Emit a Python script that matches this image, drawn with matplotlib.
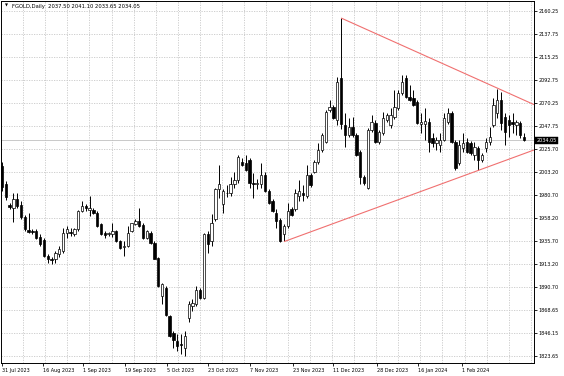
import matplotlib
matplotlib.use("Agg")
import matplotlib.pyplot as plt
import matplotlib.transforms as mtransforms
import numpy as np

# ---------------- data ----------------
opens = [2008.6, 1991.0, 1971.4, 1968.5, 1977.3, 1971.4, 1959.6, 1946.9, 1946.0, 1946.0,
         1940.1, 1937.1, 1921.5, 1918.6, 1918.6, 1923.4, 1926.4, 1944.0, 1945.0, 1943.0,
         1947.9, 1965.5, 1970.4, 1966.5, 1966.5, 1963.6, 1952.8, 1944.0, 1943.0, 1943.0,
         1946.0, 1936.2, 1930.3, 1931.3, 1946.0, 1952.8, 1955.7, 1951.8, 1939.1, 1944.0,
         1934.2, 1919.5, 1882.3, 1890.2, 1862.8, 1846.1, 1838.3, 1835.4, 1831.5, 1860.8,
         1872.6, 1874.5, 1888.2, 1880.4, 1943.0, 1936.2, 1957.7, 1987.0, 1972.4, 1982.2,
         1982.2, 1991.9, 1994.9, 2012.5, 2011.5, 2014.4, 1992.9, 1991.9, 1991.9, 1999.8,
         1985.1, 1975.3, 1963.6, 1956.7, 1943.0, 1950.8, 1967.5, 1967.5, 1980.2, 1982.2,
         1980.2, 1999.8, 2002.7, 2012.5, 2024.2, 2032.1, 2063.4, 2066.3, 2053.6, 2094.7,
         2048.7, 2039.0, 2046.7, 2039.0, 2022.3, 1997.8, 1988.0, 2043.8, 2050.6, 2032.1,
         2040.9, 2053.6, 2048.7, 2056.5, 2065.3, 2080.0, 2094.7, 2076.1, 2075.1, 2071.2,
         2049.7, 2049.7, 2051.6, 2036.0, 2031.1, 2029.1, 2034.0, 2051.6, 2060.4, 2032.1,
         2011.5, 2026.2, 2032.1, 2031.1, 2019.3, 2026.2, 2014.4, 2026.2, 2032.1, 2048.7,
         2060.4, 2073.2, 2056.5, 2053.6, 2051.6, 2048.7, 2050.6, 2037.50]
highs = [2012.5, 1993.9, 1973.3, 1982.2, 1982.2, 1975.3, 1961.6, 1963.6, 1947.9, 1947.9,
         1943.0, 1939.1, 1923.4, 1920.5, 1926.4, 1931.3, 1948.9, 1950.8, 1948.9, 1948.9,
         1966.5, 1975.3, 1972.4, 1980.2, 1968.5, 1965.5, 1953.8, 1946.0, 1945.0, 1953.8,
         1946.9, 1937.1, 1936.2, 1950.8, 1953.8, 1957.7, 1968.5, 1953.8, 1946.9, 1946.0,
         1936.2, 1920.5, 1895.1, 1892.1, 1863.8, 1848.1, 1845.2, 1845.2, 1848.1, 1877.5,
         1879.4, 1892.1, 1890.2, 1944.0, 1946.0, 1962.6, 1988.0, 2009.6, 1987.0, 1990.0,
         1997.8, 2002.7, 2019.3, 2016.4, 2019.3, 2016.4, 2001.7, 1996.8, 2011.5, 2002.7,
         1987.0, 1977.3, 1967.5, 1958.6, 1952.8, 1973.3, 1969.4, 1987.0, 1994.9, 1990.0,
         2009.6, 2001.7, 2014.4, 2031.1, 2040.9, 2063.4, 2073.2, 2068.3, 2095.7, 2153.4,
         2060.4, 2055.6, 2056.5, 2040.9, 2024.2, 1999.8, 2045.8, 2058.5, 2053.6, 2043.8,
         2061.4, 2060.4, 2065.3, 2082.9, 2082.9, 2097.6, 2097.6, 2087.8, 2082.9, 2073.2,
         2060.4, 2065.3, 2055.5, 2040.9, 2036.9, 2040.9, 2060.4, 2065.3, 2062.4, 2034.0,
         2034.0, 2040.9, 2036.0, 2033.0, 2032.1, 2028.2, 2021.3, 2036.0, 2046.7, 2075.1,
         2084.5, 2081.0, 2060.4, 2058.5, 2060.4, 2053.6, 2052.6, 2041.10]
lows = [1985.1, 1976.3, 1967.5, 1954.8, 1968.5, 1957.7, 1946.0, 1944.0, 1943.0, 1938.1,
        1931.3, 1920.5, 1914.6, 1913.7, 1914.6, 1920.5, 1924.4, 1939.1, 1941.1, 1941.1,
        1946.0, 1964.5, 1965.5, 1960.6, 1962.6, 1949.9, 1942.0, 1939.1, 1941.1, 1940.1,
        1935.2, 1928.3, 1921.5, 1930.3, 1945.0, 1951.8, 1949.9, 1938.1, 1938.1, 1933.2,
        1918.0, 1891.2, 1874.5, 1862.8, 1842.2, 1831.5, 1828.5, 1825.6, 1823.6, 1856.9,
        1867.7, 1872.6, 1879.4, 1879.4, 1924.4, 1931.3, 1955.7, 1978.2, 1963.6, 1979.2,
        1980.2, 1988.0, 1992.9, 2008.6, 2003.7, 1988.0, 1978.2, 1987.0, 1988.0, 1984.1,
        1972.4, 1964.5, 1948.9, 1935.2, 1936.2, 1948.9, 1960.6, 1965.5, 1975.3, 1975.3,
        1978.2, 1989.0, 2001.7, 2010.5, 2022.3, 2031.1, 2061.4, 2054.6, 2048.7, 2045.0,
        2027.2, 2037.0, 2037.0, 2018.4, 1991.9, 1990.0, 1987.0, 2041.8, 2031.1, 2030.1,
        2038.9, 2051.6, 2045.8, 2054.6, 2063.4, 2078.0, 2075.1, 2072.2, 2067.3, 2049.7,
        2040.9, 2034.0, 2022.3, 2027.2, 2024.2, 2022.3, 2033.0, 2049.7, 2031.1, 2004.7,
        2009.6, 2022.3, 2021.3, 2019.3, 2014.4, 2004.7, 2012.5, 2022.3, 2029.1, 2046.7,
        2055.5, 2043.8, 2029.1, 2037.0, 2040.9, 2038.9, 2036.0, 2033.65]
closes = [1989.0, 1979.2, 1969.4, 1977.3, 1970.4, 1959.6, 1947.9, 1945.0, 1945.0, 1939.1,
          1933.2, 1921.5, 1918.6, 1917.6, 1924.4, 1928.3, 1944.0, 1947.9, 1944.0, 1947.9,
          1965.5, 1970.4, 1968.5, 1968.5, 1963.6, 1950.8, 1943.0, 1942.0, 1944.0, 1946.0,
          1936.2, 1929.3, 1931.3, 1944.0, 1953.8, 1955.7, 1950.8, 1939.1, 1946.0, 1934.2,
          1918.6, 1892.1, 1894.1, 1863.8, 1843.2, 1839.3, 1833.4, 1834.4, 1843.2, 1874.5,
          1875.5, 1888.2, 1880.4, 1943.0, 1933.2, 1953.8, 1987.0, 1991.9, 1985.1, 1983.1,
          1991.9, 1994.9, 2017.4, 2009.6, 2004.7, 1992.9, 1991.9, 1992.9, 1999.8, 1985.1,
          1973.3, 1965.5, 1955.7, 1936.2, 1950.8, 1965.5, 1961.6, 1983.1, 1985.1, 1981.2,
          1999.8, 1990.0, 2012.5, 2024.2, 2038.9, 2061.4, 2066.3, 2055.5, 2090.8, 2049.7,
          2039.0, 2046.7, 2039.0, 2019.3, 1997.8, 1992.9, 2043.8, 2051.6, 2032.1, 2041.8,
          2055.5, 2058.5, 2058.5, 2066.3, 2080.0, 2090.8, 2076.1, 2073.2, 2068.3, 2050.6,
          2051.6, 2052.6, 2032.1, 2031.1, 2034.0, 2034.0, 2055.5, 2060.4, 2032.1, 2006.6,
          2029.1, 2031.1, 2022.3, 2021.3, 2027.2, 2014.4, 2019.3, 2032.1, 2037.0, 2068.3,
          2073.2, 2050.6, 2041.9, 2048.7, 2049.7, 2051.6, 2038.9, 2034.05]

date_labels = ["31 Jul 2023", "16 Aug 2023", "1 Sep 2023", "19 Sep 2023", "5 Oct 2023",
               "23 Oct 2023", "7 Nov 2023", "23 Nov 2023", "11 Dec 2023", "28 Dec 2023",
               "16 Jan 2024", "1 Feb 2024"]
date_label_bars = [0, 10.8, 21.3, 32.3, 43.3, 54.1, 65.1, 76.4, 86.9, 98.4, 109.2, 120.7]

price_ticks = [2160.25, 2137.75, 2115.25, 2092.75, 2070.25, 2047.75, 2025.70, 2003.20,
               1980.70, 1958.20, 1935.70, 1913.20, 1890.70, 1868.65, 1846.15, 1823.65]
price_labels = ["2160.25", "2137.75", "2115.25", "2092.75", "2070.25", "2047.75", "2025.70",
                "2003.20", "1980.70", "1958.20", "1935.70", "1913.20", "1890.70", "1868.65",
                "1846.15", "1823.65"]

# trend lines: (bar index, price) anchor pairs, drawn as rays to the right
upper_line = [(89, 2153.4), (130, 2085.0)]
lower_line = [(74, 1935.2), (125, 2004.7)]

symbol = "FGOLD,Daily"
last_price = 2034.05

# ---------------- figure ----------------
W, H = 564, 376
fig = plt.figure(figsize=(W / 100, H / 100), dpi=100)
fig.patch.set_facecolor("white")
ax = fig.add_axes([0.5 / W, (H - 363) / H, 533.5 / W, (363 - 1) / H])
ax.set_facecolor("white")

n = len(opens)
x = np.arange(n)
o = np.array(opens); h = np.array(highs); l = np.array(lows); c = np.array(closes)
up = c >= o

XMIN, XMAX = -0.39, 139.63
YMIN, YMAX = 1816.8, 2170.0
ax.set_xlim(XMIN, XMAX)
ax.set_ylim(YMIN, YMAX)

# grid
for p in price_ticks:
    ax.axhline(p, color="#c8c8c8", lw=0.6, ls=(0, (1.5, 1.5)), zorder=0)
grid_x = [5.59 + 5.79 * k for k in range(24)]
for gx in grid_x:
    if gx < XMAX:
        ax.axvline(gx, color="#c8c8c8", lw=0.6, ls=(0, (1.5, 1.5)), zorder=0)

# current price line
ax.axhline(last_price, color="#c0c0c0", lw=0.6, zorder=1)

# candles
ax.vlines(x, l, h, color="black", lw=0.7, zorder=2)
body_bottom = np.minimum(o, c)
body_h = np.maximum(np.abs(c - o), 0.6)
ax.bar(x[up], body_h[up], bottom=body_bottom[up], width=0.62, color="white",
       edgecolor="black", linewidth=0.5, zorder=3)
ax.bar(x[~up], body_h[~up], bottom=body_bottom[~up], width=0.62, color="black",
       edgecolor="black", linewidth=0.5, zorder=3)

# trend lines
for (x1, y1), (x2, y2) in (upper_line, lower_line):
    slope = (y2 - y1) / (x2 - x1)
    ax.plot([x1, XMAX], [y1, y1 + slope * (XMAX - x1)], color="#f07070", lw=0.8,
            zorder=4, solid_capstyle="butt", clip_on=True)

# spines
for s in ax.spines.values():
    s.set_color("black")
    s.set_linewidth(0.7)

# y axis on the right
ax.yaxis.tick_right()
ax.set_yticks(price_ticks)
ax.set_yticklabels(price_labels)
ax.tick_params(axis="y", which="both", length=2, width=0.6, pad=1.5,
               labelsize=3.5, colors="black", direction="out")
for t in ax.get_yticklabels():
    t.set_fontfamily("DejaVu Sans")

# x axis
ax.set_xticks(date_label_bars)
ax.set_xticklabels(date_labels)
ax.tick_params(axis="x", which="both", length=2, width=0.6, pad=1.5,
               labelsize=3.5, colors="black", direction="out")
for t in ax.get_xticklabels():
    t.set_horizontalalignment("left")
    t.set_fontfamily("DejaVu Sans")

# current price tag
trans = mtransforms.blended_transform_factory(ax.transAxes, ax.transData)
ax.text(1.004, last_price, f"{last_price:.2f}", transform=trans, fontsize=3.5,
        color="white", va="center", ha="left", zorder=10, clip_on=False,
        bbox=dict(boxstyle="square,pad=0.25", fc="black", ec="black", lw=0.3))

# header
ax.text(0.008, 0.992, "\u25bc", transform=ax.transAxes, fontsize=2.8, va="top",
        ha="left", color="black")
ax.text(0.021, 0.993, f"{symbol}  2037.50 2041.10 2033.65 2034.05",
        transform=ax.transAxes, fontsize=3.8, va="top", ha="left", color="black")

fig.savefig("out.png", dpi=100, facecolor="white")
